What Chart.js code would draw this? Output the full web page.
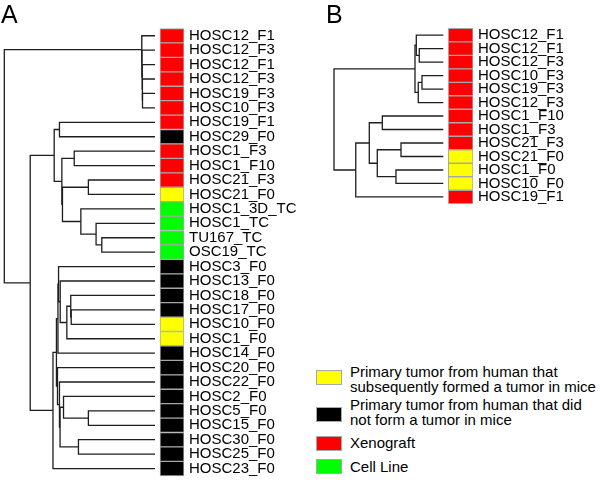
<!DOCTYPE html>
<html><head><meta charset="utf-8">
<script src="https://cdn.jsdelivr.net/npm/chart.js@4.4.0/dist/chart.umd.min.js"></script>
<style>
html,body{margin:0;padding:0;background:#fff;}
#wrap{position:relative;width:600px;height:491px;overflow:hidden;font-family:"Liberation Sans",Arial,sans-serif;background:#fff;}
canvas{position:absolute;}
.panel{position:absolute;font-size:25px;line-height:25px;color:#000;}
.lg-box{position:absolute;left:316px;width:24px;height:13px;border:1px solid #a8a8a8;}
.lg-text{position:absolute;left:350px;font-size:15px;line-height:14.7px;color:#000;white-space:pre;}
</style></head>
<body><div id="wrap">
<canvas id="cA" width="300" height="491" style="left:0;top:0"></canvas>
<canvas id="cB" width="300" height="230" style="left:300px;top:0"></canvas>
<div class="panel" style="left:1px;top:2px">A</div>
<div class="panel" style="left:326px;top:2px">B</div>
<div id="legend"></div>
</div>
<script>
// ---------- DATA ----------
const leavesA = ["HOSC12_F1","HOSC12_F3","HOSC12_F1","HOSC12_F3","HOSC19_F3","HOSC10_F3","HOSC19_F1","HOSC29_F0","HOSC1_F3","HOSC1_F10","HOSC21_F3","HOSC21_F0","HOSC1_3D_TC","HOSC1_TC","TU167_TC","OSC19_TC","HOSC3_F0","HOSC13_F0","HOSC18_F0","HOSC17_F0","HOSC10_F0","HOSC1_F0","HOSC14_F0","HOSC20_F0","HOSC22_F0","HOSC2_F0","HOSC5_F0","HOSC15_F0","HOSC30_F0","HOSC25_F0","HOSC23_F0"];
const typesA = ["X","X","X","X","X","X","X","N","X","X","X","P","C","C","C","C","N","N","N","N","P","P","N","N","N","N","N","N","N","N","N"];
// merge rows: negative = leaf (1-based), positive = earlier merge row (1-based)
const mergesA = [[-5,-6],[-4,1],[-3,2],[-2,3],[-1,4],[-7,-8],[-15,-16],[-14,7],[-13,8],[-11,-12],[10,9],[-9,-10],[12,11],[6,13],[-20,-21],[-19,15],[16,-22],[-18,17],[-17,18],[19,-23],[-27,-28],[-26,21],[-29,-30],[22,23],[-25,24],[-24,25],[20,26],[27,-31],[14,28],[5,29]];
const heightsA = [0.083,0.084,0.085,0.087,0.088,0.634,0.353,0.391,0.492,0.442,0.614,0.536,0.618,0.669,0.556,0.559,0.585,0.629,0.640,0.644,0.442,0.607,0.508,0.630,0.634,0.647,0.654,0.677,0.828,1.0];

const leavesB = ["HOSC12_F1","HOSC12_F1","HOSC12_F3","HOSC10_F3","HOSC19_F3","HOSC12_F3","HOSC1_F10","HOSC1_F3","HOSC21_F3","HOSC21_F0","HOSC1_F0","HOSC10_F0","HOSC19_F1"];
const typesB = ["X","X","X","X","X","X","X","X","X","P","P","P","X"];
const mergesB = [[-2,-3],[-1,1],[-4,-5],[3,-6],[2,4],[-7,-8],[-9,-10],[-11,-12],[7,8],[6,9],[10,-13],[5,11]];
const heightsB = [0.220,0.247,0.195,0.229,0.259,0.558,0.387,0.433,0.604,0.677,0.801,1.0];

const legendTypes = ["P","N","X","C"];
const legendLabels = ["Primary tumor from human that\nsubsequently formed a tumor in mice","Primary tumor from human that did\nnot form a tumor in mice","Xenograft","Cell Line"];

// ---------- STYLE ----------
const typeColors = {X:"#ff0000", P:"#ffff00", N:"#000000", C:"#00ff00"};
Chart.defaults.font.family = "'Liberation Sans', Arial, sans-serif";
Chart.defaults.font.size = 15;
Chart.defaults.color = "#000";

function drawPanel(canvasId, leaves, types, merges, heights, g) {
  // pixel geometry -> scale ranges
  const span = g.leafPx - g.rootPx;
  const hAt = px => (g.leafPx - px) / span;
  const areaH = g.canvasH - g.padTop - g.padBottom;
  const n = leaves.length;
  const rowPx = (g.lastRowPx - g.firstRowPx) / (n - 1);
  const range = areaH / rowPx;
  const yMin = -(g.firstRowPx - g.padTop) / rowPx;
  const yMax = yMin + range;

  // dendrogram segments
  const nodeH = [], nodeY = [];
  const ref = c => c < 0 ? {h: 0, y: -c - 1} : {h: nodeH[c - 1], y: nodeY[c - 1]};
  const datasets = [];
  merges.forEach((m, k) => {
    const a = ref(m[0]), b = ref(m[1]);
    const h = heights[k];
    nodeH.push(h); nodeY.push((a.y + b.y) / 2);
    datasets.push({
      type: "scatter", showLine: true, pointRadius: 0, borderColor: "#1e1e1e",
      borderWidth: 1.3, borderJoinStyle: "miter", clip: false,
      data: [{x: a.h, y: a.y}, {x: h, y: a.y}, {x: h, y: b.y}, {x: b.h, y: b.y}]
    });
  });
  // colour cells
  datasets.push({
    type: "bar", indexAxis: "y",
    data: leaves.map((_, i) => ({x: [hAt(g.cellL), hAt(g.cellR)], y: i})),
    backgroundColor: types.map(t => typeColors[t]),
    borderColor: "#a8a8a8", borderWidth: 1, borderSkipped: false,
    barPercentage: 1, categoryPercentage: 1
  });

  new Chart(document.getElementById(canvasId), {
    type: "scatter",
    data: {datasets},
    options: {
      responsive: false, animation: false, devicePixelRatio: 1, events: [],
      layout: {padding: {left: 0, right: 0, top: g.padTop, bottom: g.padBottom}},
      plugins: {legend: {display: false}, tooltip: {enabled: false}},
      scales: {
        x: {type: "linear", display: false, reverse: true, min: hAt(g.cellR), max: hAt(0)},
        y: {
          type: "linear", position: "right", reverse: true, min: yMin, max: yMax,
          grid: {display: false, drawTicks: false}, border: {display: false},
          afterBuildTicks: s => { s.ticks = leaves.map((_, i) => ({value: i})); },
          afterFit: s => { s.width = g.canvasW - g.cellR; },
          ticks: {autoSkip: false, padding: 5, color: "#000", font: {size: 15},
                  callback: v => leaves[v]}
        }
      }
    }
  });
}

drawPanel("cA", leavesA, typesA, mergesA, heightsA,
  {leafPx: 155, rootPx: 4.3, cellL: 160, cellR: 184, firstRowPx: 25, lastRowPx: 480,
   canvasW: 300, canvasH: 491, padTop: 10, padBottom: 10});
drawPanel("cB", leavesB, typesB, mergesB, heightsB,
  {leafPx: 143.3, rootPx: 34, cellL: 148.3, cellR: 173, firstRowPx: 25, lastRowPx: 207.3,
   canvasW: 300, canvasH: 230, padTop: 10, padBottom: 10});

// ---------- LEGEND ----------
const boxTops = [370, 406.7, 435.7, 459];
const textTops = [365, 398.3, 436, 459.5];
const lg = document.getElementById("legend");
legendTypes.forEach((t, i) => {
  const b = document.createElement("div");
  b.className = "lg-box"; b.style.top = boxTops[i] + "px"; b.style.background = typeColors[t];
  lg.appendChild(b);
  const s = document.createElement("div");
  s.className = "lg-text"; s.style.top = textTops[i] + "px"; s.textContent = legendLabels[i];
  lg.appendChild(s);
});
</script>
</body></html>
